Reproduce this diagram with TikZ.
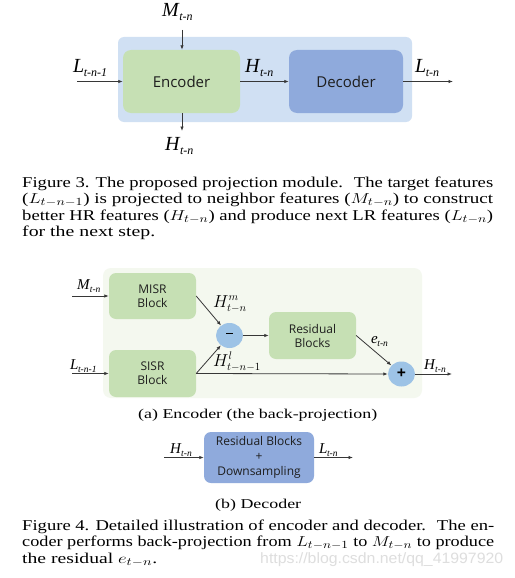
\documentclass[tikz,border=0pt]{standalone}
\usepackage{fontspec}
\usepackage{graphicx}
\setmainfont{Liberation Serif}
\newfontfamily\boxfont{Open Sans}
\newfontfamily\wmfont{Liberation Sans}
\usetikzlibrary{arrows.meta,shapes.geometric}
\definecolor{panelA}{RGB}{208,224,243}
\definecolor{panelB}{RGB}{244,248,239}
\definecolor{encgreen}{RGB}{198,224,180}
\definecolor{decblue}{RGB}{143,170,220}
\definecolor{circblue}{RGB}{157,195,230}
\definecolor{linegray}{RGB}{55,55,55}
\definecolor{boxtext}{RGB}{30,30,30}
\definecolor{wmgray}{RGB}{222,222,222}
\newcommand\biglab[2]{{\fontsize{20}{20}\selectfont\textit{#1}\kern-0.5pt\raisebox{-4pt}{\fontsize{12}{12}\selectfont\textit{#2}}}}
\newcommand\smalllab[2]{{\fontsize{15}{15}\selectfont\textit{#1}\kern-0.5pt\raisebox{-3pt}{\fontsize{9.5}{9.5}\selectfont\textit{#2}}}}
\newcommand\capsize{\fontsize{15}{16}\selectfont}
\begin{document}
\begin{tikzpicture}[x=1pt,y=-1pt,
  arr/.style={draw=linegray,line width=0.8pt,-{Latex[length=4.5pt,width=3.5pt]}},
  bigbox/.style={rounded corners=8pt,draw=none,inner sep=0pt,font=\boxfont\fontsize{15}{18}\selectfont,text=boxtext},
  smallbox/.style={rounded corners=7pt,draw=none,inner sep=0pt,align=center,font=\boxfont\fontsize{12}{14}\selectfont,text=boxtext},
  circ/.style={ellipse,fill=circblue,minimum width=27pt,minimum height=25pt,inner sep=0pt,font=\boxfont\bfseries\fontsize{16}{16}\selectfont,text=black},
  lab/.style={inner sep=0pt,anchor=base west},
  captxt/.style={inner sep=0pt,anchor=base west}]
\useasboundingbox (0,0) rectangle (514,578);
\fill[white] (0,0) rectangle (514,578);

% ---------- Figure 3 ----------
\fill[panelA,rounded corners=6pt] (118,37) rectangle (412,122);
\node[bigbox,fill=encgreen,minimum width=117pt,minimum height=63pt] (enc) at (181.5,81.5) {Encoder};
\node[bigbox,fill=decblue,minimum width=114pt,minimum height=63pt] (dec) at (346,81.5) {Decoder};
\node[lab] (m1) at (162,17) {\biglab{M}{t-n}};
\node[lab] (l1) at (73,72) {\biglab{L}{t-n-1}};
\node[lab] (h1) at (245,72) {\biglab{H}{t-n}};
\node[lab] (l2) at (415,72) {\biglab{L}{t-n}};
\node[lab] (h2) at (165,150) {\biglab{H}{t-n}};
\coordinate (m1s) at (182,30);
\coordinate (l1s) at (77,81.5);
\coordinate (l2e) at (453,81.5);
\coordinate (h2e) at (182,131);
\draw[arr] (m1s) -- (m1s |- enc.north);
\draw[arr] (l1s) -- (enc.west);
\draw[arr] (enc.east) -- (dec.west);
\draw[arr] (dec.east) -- (l2e);
\draw[arr] (h2e |- enc.south) -- (h2e);

\node[captxt] (c3a) at (22,187) {\capsize\resizebox{471pt}{\height}{Figure 3. The proposed projection module. \ The target features}};
\node[captxt] (c3b) at (22,203.5) {\capsize\resizebox{471pt}{\height}{(\(L_{t-n-1}\)) is projected to neighbor features (\(M_{t-n}\)) to construct}};
\node[captxt] (c3c) at (22,220) {\capsize\resizebox{471pt}{\height}{better HR features (\(H_{t-n}\)) and produce next LR features (\(L_{t-n}\))}};
\node[captxt] (c3d) at (22,236.5) {\capsize\resizebox{133pt}{\height}{for the next step.}};

% ---------- Figure 4 (a) ----------
\fill[panelB,rounded corners=8pt] (103,268) rectangle (422,398);
\node[smallbox,fill=encgreen,minimum width=87pt,minimum height=46pt] (misr) at (152.5,296) {MISR\\Block};
\node[smallbox,fill=encgreen,minimum width=87pt,minimum height=47pt] (sisr) at (152.5,373.5) {SISR\\Block};
\node[smallbox,fill=encgreen,minimum width=87pt,minimum height=47pt] (res) at (312.5,335.5) {Residual\\Blocks};
\node[circ] (minus) at (229.5,335.5) {\rule[0.25em]{0.4em}{0.12em}};
\node[circ] (plus) at (401.5,374) {+};
\node[lab] (m3) at (77,289) {\smalllab{M}{t-n}};
\node[lab] (l3) at (70,369) {\smalllab{L}{t-n-1}};
\node[lab] (hm) at (213,307) {\fontsize{16}{16}\selectfont\(H^m_{t-n}\)};
\node[lab] (hl) at (213,366) {\fontsize{16}{16}\selectfont\(H^l_{t-n-1}\)};
\node[lab] (e3) at (371,343) {\smalllab{e}{t-n}};
\node[lab] (h3) at (424,369) {\smalllab{H}{t-n}};
\coordinate (m3s) at (72,296);
\coordinate (l3s) at (72,373.5);
\coordinate (h3e) at (452,374);
\draw[arr] (m3s) -- (misr.west);
\draw[arr] (l3s) -- (sisr.west);
\draw[arr] (misr.east) -- (minus);
\draw[arr] (sisr.east) -- (minus);
\draw[arr] (sisr.east) -- (plus.west);
\draw[arr] (minus.east) -- (res.west);
\draw[arr] (res.east) -- (plus);
\draw[arr] (plus.east) -- (h3e);

\node[captxt] (sa) at (138,418) {\fontsize{13.5}{15}\selectfont\resizebox{239pt}{\height}{(a) Encoder (the back-projection)}};

% ---------- Figure 4 (b) ----------
\node[smallbox,fill=decblue,minimum width=110pt,minimum height=51pt,font=\boxfont\fontsize{12}{15}\selectfont] (dec2) at (259,457.5) {Residual Blocks\\+\\Downsampling};
\node[lab] (h4) at (170,453) {\smalllab{H}{t-n}};
\node[lab] (l4) at (319,453) {\smalllab{L}{t-n}};
\coordinate (h4s) at (164,457.5);
\coordinate (l4e) at (353,457.5);
\draw[arr] (h4s) -- (dec2.west);
\draw[arr] (dec2.east) -- (l4e);

\node[captxt] (sb) at (215,508) {\fontsize{13.5}{15}\selectfont\resizebox{86pt}{\height}{(b) Decoder}};

\node[captxt] (c4a) at (22,530) {\capsize\resizebox{472pt}{\height}{Figure 4. Detailed illustration of encoder and decoder. \ The en-}};
\node[captxt] (c4b) at (22,546.5) {\capsize\resizebox{472pt}{\height}{coder performs back-projection from \(L_{t-n-1}\) to \(M_{t-n}\) to produce}};
\node[captxt] (c4c) at (22,563) {\capsize\resizebox{135pt}{\height}{the residual \(e_{t-n}\).}};
\node[captxt] (wm) at (260,563) {\wmfont\fontsize{15}{15}\selectfont\color{wmgray}\resizebox{243pt}{\height}{https://blog.csdn.net/qq\_41997920}};
\end{tikzpicture}
\end{document}
